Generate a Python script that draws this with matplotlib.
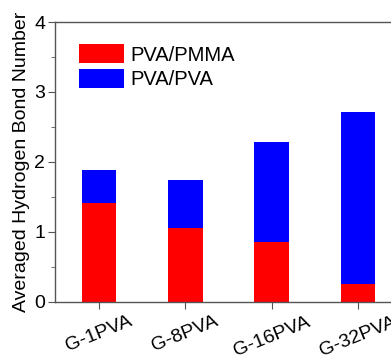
import matplotlib
matplotlib.use('Agg')
import matplotlib.pyplot as plt
from matplotlib.ticker import MultipleLocator

plt.rcParams['font.family'] = ['Liberation Sans', 'DejaVu Sans']

samples = ['G-1PVA', 'G-8PVA', 'G-16PVA', 'G-32PVA']
pva_pmma = [1.42, 1.06, 0.86, 0.26]
pva_pva = [0.47, 0.68, 1.43, 2.45]

fig = plt.figure(figsize=(3.91, 3.56), dpi=100)
ax = fig.add_axes([0.1407, 0.1517, 0.885, 0.7865])

x = range(1, len(samples) + 1)
ax.bar(x, pva_pmma, width=0.4, color='#ff0000', label='PVA/PMMA')
ax.bar(x, pva_pva, width=0.4, bottom=pva_pmma, color='#0000ff', label='PVA/PVA')

ax.set_xlim(0.49, 4.5)
ax.set_ylim(0, 4)
ax.set_xticks(list(x))
ax.set_xticklabels(samples, rotation=22, fontsize=14)
ax.yaxis.set_major_locator(MultipleLocator(1))
ax.yaxis.set_minor_locator(MultipleLocator(0.5))
ax.tick_params(axis='y', which='major', direction='out', length=5, pad=2,
               labelsize=14, color='#555555')
ax.tick_params(axis='y', which='minor', direction='out', length=3, color='#555555')
ax.tick_params(axis='x', which='major', direction='out', length=5, pad=3, color='#555555')
ax.set_ylabel('Averaged Hydrogen Bond Number', fontsize=14, labelpad=3)

for s in ax.spines.values():
    s.set_color('#555555')
    s.set_linewidth(1.0)

ax.legend(loc='upper left', bbox_to_anchor=(0.069, 0.921), frameon=False,
          fontsize=14.5, handlelength=2.25, handleheight=1.1, handletextpad=0.3,
          labelspacing=0.2, borderpad=0, borderaxespad=0)

fig.savefig('out.png', dpi=100)
